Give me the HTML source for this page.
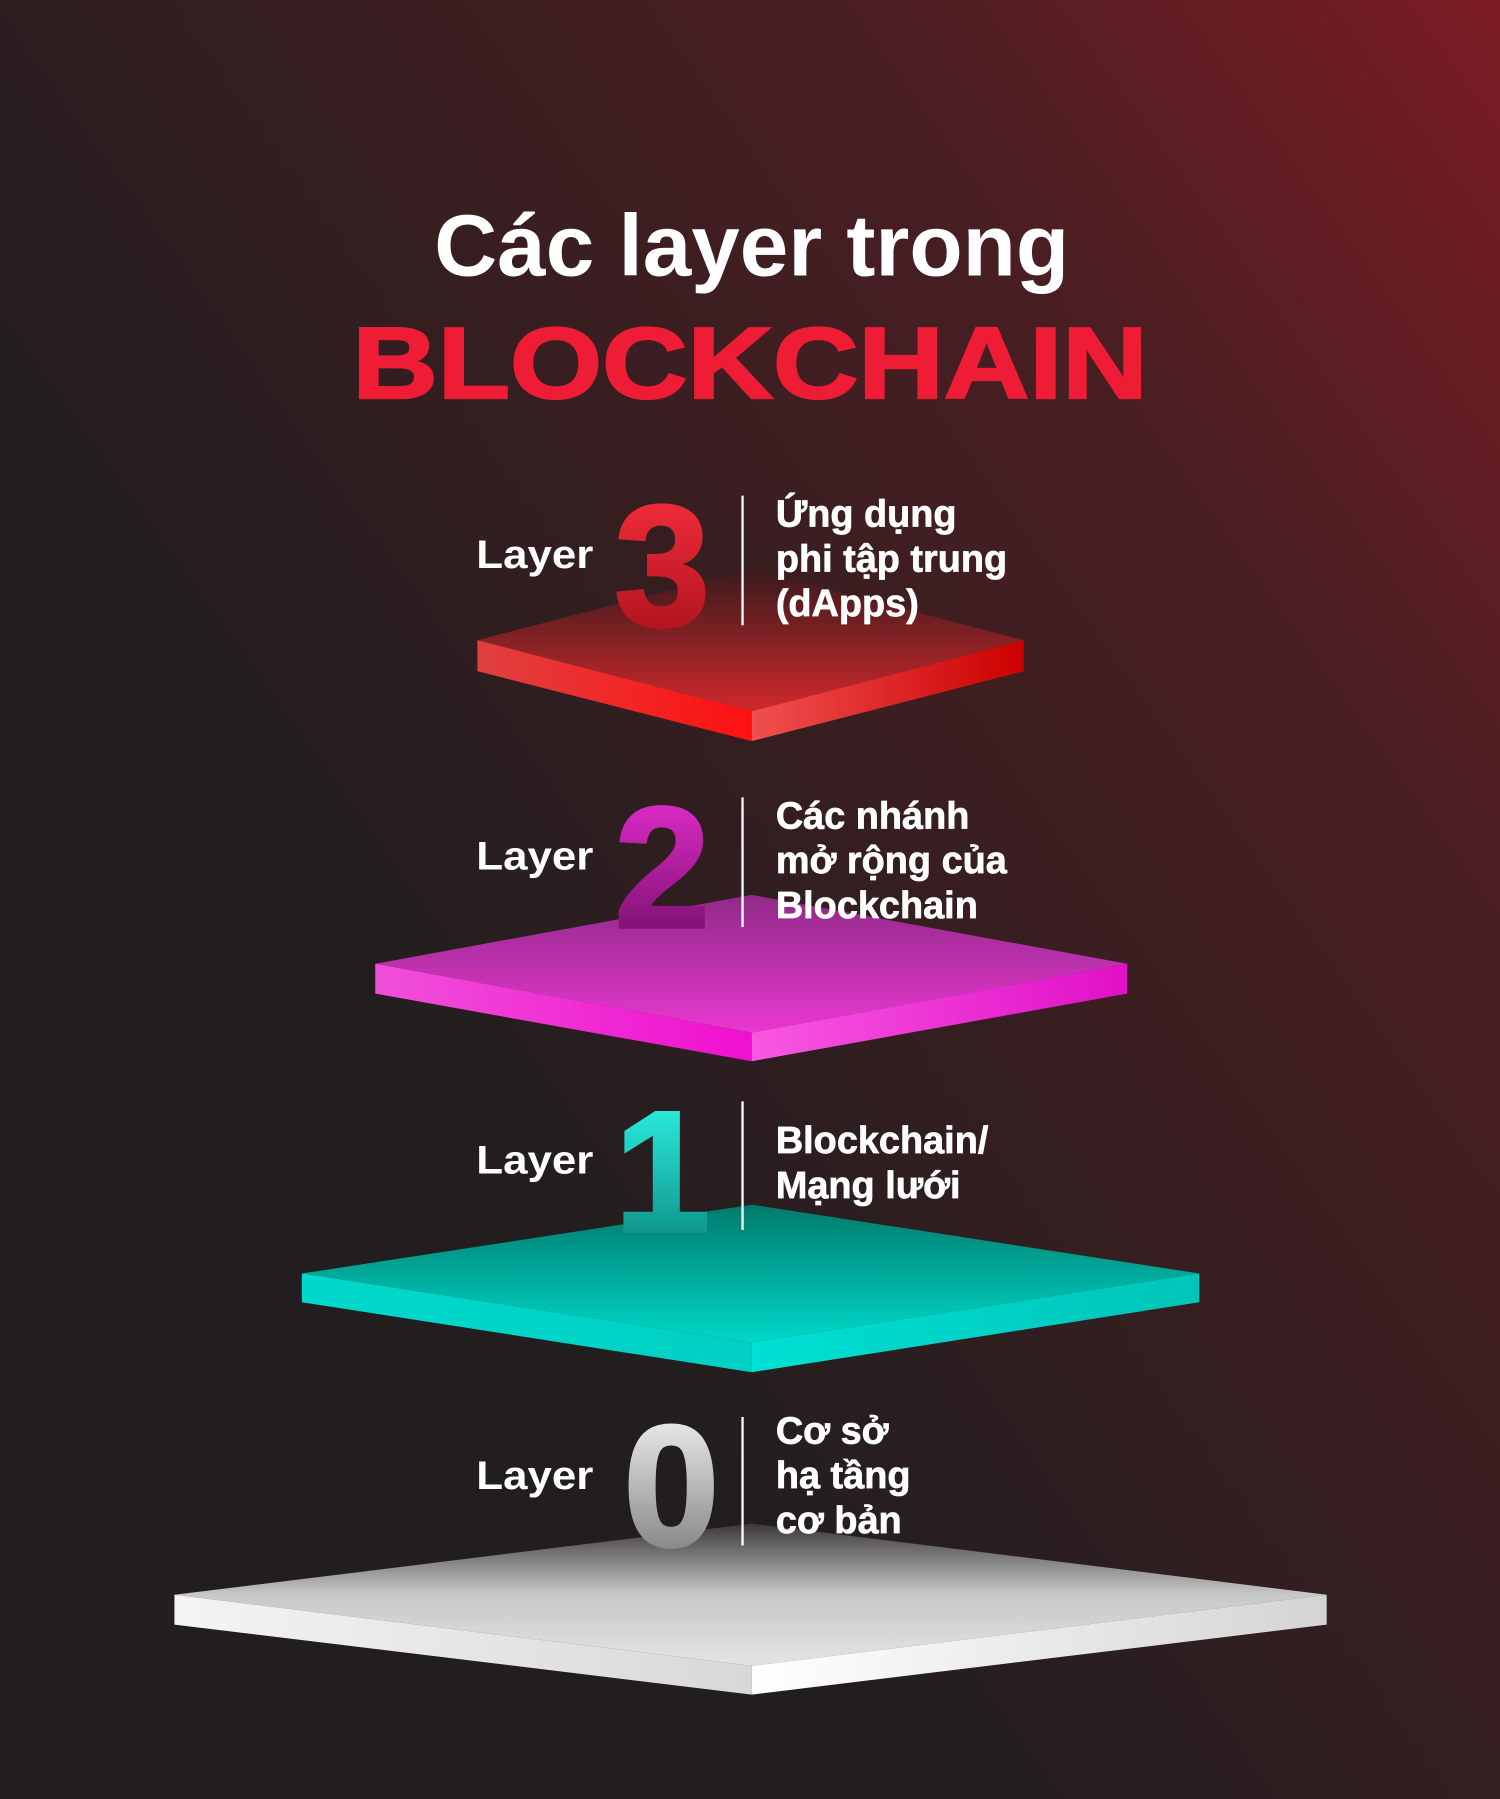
<!DOCTYPE html>
<html><head><meta charset="utf-8"><style>
html,body{margin:0;padding:0;width:1500px;height:1799px;overflow:hidden;background:#221e1f}
svg{display:block}
text{font-family:"Liberation Sans",sans-serif;font-weight:bold}
</style></head><body>
<svg width="1500" height="1799" viewBox="0 0 1307 1568" preserveAspectRatio="none" xmlns="http://www.w3.org/2000/svg">
<defs>
<linearGradient id="bg" x1="1" y1="0" x2="0.3" y2="0.6">
<stop offset="0" stop-color="#7c1c24"/><stop offset="0.35" stop-color="#4a1e22"/><stop offset="1" stop-color="#221e1f"/>
</linearGradient>
<linearGradient id="t3" x1="0" y1="0" x2="0" y2="1"><stop offset="0" stop-color="#3a1a1c"/><stop offset="1" stop-color="#d0282c"/></linearGradient>
<linearGradient id="l3" x1="0" y1="0" x2="1" y2="0"><stop offset="0" stop-color="#e04040"/><stop offset="1" stop-color="#ff1010"/></linearGradient>
<linearGradient id="r3" x1="0" y1="0" x2="1" y2="0"><stop offset="0" stop-color="#f05050"/><stop offset="1" stop-color="#cc0000"/></linearGradient>
<linearGradient id="t2" x1="0" y1="0" x2="0" y2="1"><stop offset="0" stop-color="#902a88"/><stop offset="1" stop-color="#e838d0"/></linearGradient>
<linearGradient id="l2" x1="0" y1="0" x2="1" y2="0"><stop offset="0" stop-color="#f050d8"/><stop offset="1" stop-color="#f010d0"/></linearGradient>
<linearGradient id="r2" x1="0" y1="0" x2="1" y2="0"><stop offset="0" stop-color="#f858e0"/><stop offset="1" stop-color="#e010c8"/></linearGradient>
<linearGradient id="t1" x1="0" y1="0" x2="0" y2="1"><stop offset="0" stop-color="#007a6c"/><stop offset="1" stop-color="#00d8c8"/></linearGradient>
<linearGradient id="l1" x1="0" y1="0" x2="1" y2="0"><stop offset="0" stop-color="#00d8cc"/><stop offset="1" stop-color="#00d0c4"/></linearGradient>
<linearGradient id="r1" x1="0" y1="0" x2="1" y2="0"><stop offset="0" stop-color="#00e0d4"/><stop offset="1" stop-color="#00c4b8"/></linearGradient>
<linearGradient id="t0" x1="0" y1="0" x2="0" y2="1"><stop offset="0" stop-color="#3a3838"/><stop offset="0.5" stop-color="#c8c8c8"/><stop offset="1" stop-color="#e4e4e4"/></linearGradient>
<linearGradient id="l0" x1="0" y1="0" x2="1" y2="0"><stop offset="0" stop-color="#f4f4f4"/><stop offset="1" stop-color="#d8d8d8"/></linearGradient>
<linearGradient id="r0" x1="0" y1="0" x2="1" y2="0"><stop offset="0" stop-color="#ffffff"/><stop offset="1" stop-color="#d4d4d4"/></linearGradient>
<linearGradient id="d3" x1="0" y1="0" x2="0" y2="1"><stop offset="0" stop-color="#ff3040"/><stop offset="1" stop-color="#a01018"/></linearGradient>
<linearGradient id="d2" x1="0" y1="0" x2="0" y2="1"><stop offset="0" stop-color="#f030d8"/><stop offset="1" stop-color="#6a0c60"/></linearGradient>
<linearGradient id="d1" x1="0" y1="0" x2="0" y2="1"><stop offset="0" stop-color="#30fff0"/><stop offset="1" stop-color="#0a8078"/></linearGradient>
<linearGradient id="d0" x1="0" y1="0" x2="0" y2="1"><stop offset="0" stop-color="#ffffff"/><stop offset="1" stop-color="#707070"/></linearGradient>
</defs>
<rect width="1307" height="1568" fill="#221e1f"/>
<rect width="1307" height="1568" fill="url(#bg)"/>

<text x="655" y="240" font-size="76" fill="#fff" text-anchor="middle">Các layer trong</text>
<text x="307" y="347" font-size="88" fill="#ee1c34" stroke="#ee1c34" stroke-width="2" textLength="693" lengthAdjust="spacingAndGlyphs">BLOCKCHAIN</text>

<polygon points="416,558 655,496 892,558 655,620" fill="url(#t3)"/>
<polygon points="416,558 655,620 655,646 416,585" fill="url(#l3)"/>
<polygon points="655,620 892,558 892,585 655,646" fill="url(#r3)"/>
<polygon points="327,840 655,780 982,840 655,900" fill="url(#t2)"/>
<polygon points="327,840 655,900 655,925 327,866" fill="url(#l2)"/>
<polygon points="655,900 982,840 982,866 655,925" fill="url(#r2)"/>
<polygon points="263,1110 655,1050 1045,1110 655,1170" fill="url(#t1)"/>
<polygon points="263,1110 655,1170 655,1196 263,1135" fill="url(#l1)"/>
<polygon points="655,1170 1045,1110 1045,1135 655,1196" fill="url(#r1)"/>
<polygon points="152,1390 655,1328 1156,1390 655,1452" fill="url(#t0)"/>
<polygon points="152,1390 655,1452 655,1477 152,1416" fill="url(#l0)"/>
<polygon points="655,1452 1156,1390 1156,1416 655,1477" fill="url(#r0)"/>

<g fill="#fff" font-size="35">
<text x="415" y="495" textLength="102" lengthAdjust="spacingAndGlyphs">Layer</text>
<text x="415" y="758" textLength="102" lengthAdjust="spacingAndGlyphs">Layer</text>
<text x="415" y="1023" textLength="102" lengthAdjust="spacingAndGlyphs">Layer</text>
<text x="415" y="1298" textLength="102" lengthAdjust="spacingAndGlyphs">Layer</text>
</g>
<g font-size="150" text-anchor="middle" stroke-width="3">
<text x="577" y="545" fill="url(#d3)" stroke="url(#d3)">3</text>
<text x="577" y="808" fill="url(#d2)" stroke="url(#d2)">2</text>
<text x="577" y="1073" fill="url(#d1)" stroke="url(#d1)">1</text>
<text x="585" y="1347" fill="url(#d0)" stroke="url(#d0)">0</text>
</g>
<g stroke="#fff" stroke-width="2">
<line x1="647" y1="432" x2="647" y2="545"/>
<line x1="647" y1="695" x2="647" y2="808"/>
<line x1="647" y1="960" x2="647" y2="1072"/>
<line x1="647" y1="1235" x2="647" y2="1347"/>
</g>
<g fill="#fff" font-size="33" stroke="#fff" stroke-width="0.6">
<text x="676" y="459">Ứng dụng</text>
<text x="676" y="498">phi tập trung</text>
<text x="676" y="537">(dApps)</text>
<text x="676" y="722">Các nhánh</text>
<text x="676" y="761">mở rộng của</text>
<text x="676" y="800">Blockchain</text>
<text x="676" y="1005">Blockchain/</text>
<text x="676" y="1044">Mạng lưới</text>
<text x="676" y="1258">Cơ sở</text>
<text x="676" y="1297">hạ tầng</text>
<text x="676" y="1336">cơ bản</text>
</g>
</svg>
</body></html>
